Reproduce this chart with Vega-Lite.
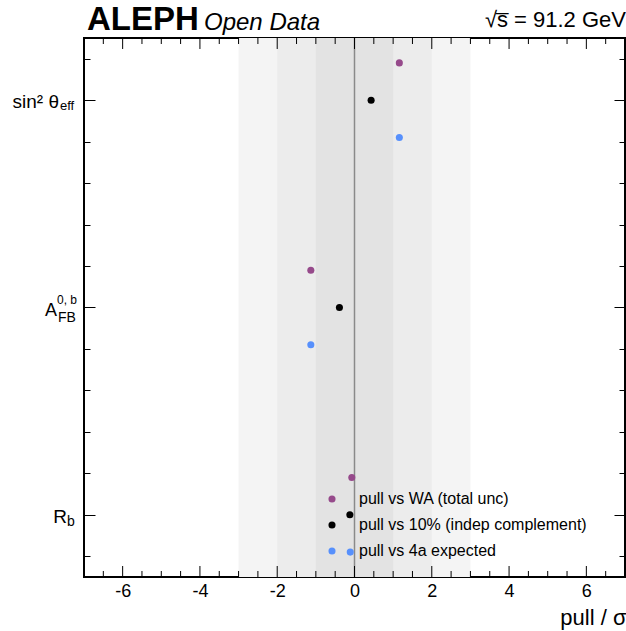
{
  "$schema": "https://vega.github.io/schema/vega-lite/v6.json",
  "width": 541,
  "height": 539,
  "autosize": {"type": "none"},
  "padding": {"left": 84, "top": 38, "right": 1, "bottom": 54},
  "background": "white",
  "config": {
    "font": "Liberation Sans",
    "view": {"stroke": "black", "strokeWidth": 2},
    "axis": {"domain": false, "grid": false, "ticks": true, "tickColor": "black", "tickWidth": 1, "tickOpacity": 1, "labelFont": "Liberation Sans", "labelColor": "black", "titleFont": "Liberation Sans", "titleColor": "black"}
  },
  "datasets": {
    "bands": [
      {"band": "3 sigma", "lo": -3, "hi": 3},
      {"band": "2 sigma", "lo": -2, "hi": 2},
      {"band": "1 sigma", "lo": -1, "hi": 1}
    ],
    "zeroline": [{"pull": 0}],
    "xticks": [
      {"pos": -6.5, "kind": "minor"}, {"pos": -6, "kind": "major"}, {"pos": -5.5, "kind": "minor"}, {"pos": -5, "kind": "minor"},
      {"pos": -4.5, "kind": "minor"}, {"pos": -4, "kind": "major"}, {"pos": -3.5, "kind": "minor"}, {"pos": -3, "kind": "minor"},
      {"pos": -2.5, "kind": "minor"}, {"pos": -2, "kind": "major"}, {"pos": -1.5, "kind": "minor"}, {"pos": -1, "kind": "minor"},
      {"pos": -0.5, "kind": "minor"}, {"pos": 0, "kind": "major"}, {"pos": 0.5, "kind": "minor"}, {"pos": 1, "kind": "minor"},
      {"pos": 1.5, "kind": "minor"}, {"pos": 2, "kind": "major"}, {"pos": 2.5, "kind": "minor"}, {"pos": 3, "kind": "minor"},
      {"pos": 3.5, "kind": "minor"}, {"pos": 4, "kind": "major"}, {"pos": 4.5, "kind": "minor"}, {"pos": 5, "kind": "minor"},
      {"pos": 5.5, "kind": "minor"}, {"pos": 6, "kind": "major"}, {"pos": 6.5, "kind": "minor"}
    ],
    "pulls": [
      {"observable": "sin2", "series": "pull vs WA (total unc)", "row": 2.18, "pull": 1.16},
      {"observable": "sin2", "series": "pull vs 10% (indep complement)", "row": 2.0, "pull": 0.43},
      {"observable": "sin2", "series": "pull vs 4a expected", "row": 1.82, "pull": 1.16},
      {"observable": "AFB", "series": "pull vs WA (total unc)", "row": 1.18, "pull": -1.13},
      {"observable": "AFB", "series": "pull vs 10% (indep complement)", "row": 1.0, "pull": -0.39},
      {"observable": "AFB", "series": "pull vs 4a expected", "row": 0.82, "pull": -1.13},
      {"observable": "Rb", "series": "pull vs WA (total unc)", "row": 0.18, "pull": -0.07},
      {"observable": "Rb", "series": "pull vs 10% (indep complement)", "row": 0.0, "pull": -0.12},
      {"observable": "Rb", "series": "pull vs 4a expected", "row": -0.18, "pull": -0.11}
    ],
    "ylab": [
      {"part": "sinmain", "v": 2, "t": "sin² θ"},
      {"part": "sinsub", "v": 2, "t": "eff"},
      {"part": "amain", "v": 1, "t": "A"},
      {"part": "asup", "v": 1, "t": "0, b"},
      {"part": "asub", "v": 1, "t": "FB"},
      {"part": "rmain", "v": 0, "t": "R"},
      {"part": "rsub", "v": 0, "t": "b"}
    ],
    "header": [
      {"part": "exp", "t": "ALEPH"},
      {"part": "od", "t": "Open Data"},
      {"part": "energy", "t": "√s̅ = 91.2 GeV"}
    ]
  },
  "layer": [
    {
      "data": {"name": "bands"},
      "mark": {"type": "rect"},
      "encoding": {
        "x": {
          "field": "lo", "type": "quantitative",
          "scale": {"domain": [-7, 7], "nice": false, "zero": false},
          "axis": {
            "orient": "bottom",
            "values": [-6, -4, -2, 0, 2, 4, 6],
            "labelExpr": "toString(datum.value)",
            "tickSize": -11,
            "tickOpacity": 0,
            "labelFontSize": 18,
            "labelPadding": 16,
            "labelFlush": false,
            "labelOverlap": false,
            "title": "pull / σ",
            "titleFontSize": 22,
            "titleFontWeight": "normal",
            "titleAnchor": "end",
            "titleAlign": "right",
            "titleBaseline": "alphabetic",
            "titleX": 542,
            "titleY": 47
          }
        },
        "x2": {"field": "hi"},
        "fill": {
          "field": "band", "type": "nominal",
          "scale": {"domain": ["3 sigma", "2 sigma", "1 sigma"], "range": ["#f4f4f4", "#ececec", "#e3e3e3"]},
          "legend": null
        }
      }
    },
    {
      "data": {"name": "zeroline"},
      "mark": {"type": "rule", "color": "#8a8a8a", "strokeWidth": 1.5},
      "encoding": {
        "x": {"field": "pull", "type": "quantitative", "axis": null}
      }
    },
    {
      "data": {"name": "xticks"},
      "transform": [{"filter": "datum.kind === 'major'"}],
      "mark": {"type": "rule", "color": "black", "strokeWidth": 1},
      "encoding": {
        "x": {"field": "pos", "type": "quantitative", "axis": null},
        "y": {"datum": -0.3, "type": "quantitative", "axis": null},
        "y2": {"datum": -0.247}
      }
    },
    {
      "data": {"name": "xticks"},
      "transform": [{"filter": "datum.kind === 'minor'"}],
      "mark": {"type": "rule", "color": "black", "strokeWidth": 1},
      "encoding": {
        "x": {"field": "pos", "type": "quantitative", "axis": null},
        "y": {"datum": -0.3, "type": "quantitative", "axis": null},
        "y2": {"datum": -0.271}
      }
    },
    {
      "data": {"name": "xticks"},
      "transform": [{"filter": "datum.kind === 'major'"}],
      "mark": {"type": "rule", "color": "black", "strokeWidth": 1},
      "encoding": {
        "x": {"field": "pos", "type": "quantitative", "axis": null},
        "y": {"datum": 2.3, "type": "quantitative", "axis": null},
        "y2": {"datum": 2.247}
      }
    },
    {
      "data": {"name": "xticks"},
      "transform": [{"filter": "datum.kind === 'minor'"}],
      "mark": {"type": "rule", "color": "black", "strokeWidth": 1},
      "encoding": {
        "x": {"field": "pos", "type": "quantitative", "axis": null},
        "y": {"datum": 2.3, "type": "quantitative", "axis": null},
        "y2": {"datum": 2.271}
      }
    },
    {
      "data": {"name": "pulls"},
      "mark": {"type": "circle", "size": 50, "opacity": 1},
      "encoding": {
        "x": {"field": "pull", "type": "quantitative", "axis": null},
        "y": {
          "field": "row", "type": "quantitative",
          "scale": {"domain": [-0.3, 2.3], "nice": false, "zero": false},
          "axis": {
            "orient": "left",
            "values": [-0.2, 0, 0.2, 0.4, 0.6, 0.8, 1, 1.2, 1.4, 1.6, 1.8, 2, 2.2],
            "labels": false,
            "title": null,
            "tickSize": {"condition": {"test": "abs(datum.value - round(datum.value)) < 0.001", "value": -11}, "value": -6}
          }
        },
        "color": {
          "field": "series", "type": "nominal",
          "scale": {"domain": ["pull vs WA (total unc)", "pull vs 10% (indep complement)", "pull vs 4a expected"], "range": ["#964a8b", "#000000", "#5790fc"]},
          "legend": {
            "orient": "none", "legendX": 240, "legendY": 453,
            "title": null, "padding": 0,
            "labelFontSize": 16, "labelFont": "Liberation Sans", "labelColor": "black", "labelLimit": 0,
            "symbolType": "circle", "symbolSize": 50, "symbolStrokeWidth": 0,
            "rowPadding": 10, "labelOffset": 19
          }
        }
      }
    },
    {
      "data": {"name": "ylab"},
      "transform": [{"filter": "datum.part === 'sinmain'"}],
      "mark": {"type": "text", "align": "right", "baseline": "alphabetic", "dx": -25, "dy": 8, "fontSize": 19, "color": "black"},
      "encoding": {
        "x": {"datum": -7, "type": "quantitative", "axis": null},
        "y": {
          "field": "v", "type": "quantitative",
          "axis": {
            "orient": "right",
            "values": [-0.2, 0, 0.2, 0.4, 0.6, 0.8, 1, 1.2, 1.4, 1.6, 1.8, 2, 2.2],
            "labels": false,
            "title": null,
            "tickSize": {"condition": {"test": "abs(datum.value - round(datum.value)) < 0.001", "value": -11}, "value": -6}
          }
        },
        "text": {"field": "t"}
      }
    },
    {
      "data": {"name": "ylab"},
      "transform": [{"filter": "datum.part === 'sinsub'"}],
      "mark": {"type": "text", "align": "left", "baseline": "alphabetic", "dx": -24, "dy": 10, "fontSize": 13, "color": "black"},
      "encoding": {
        "x": {"datum": -7, "type": "quantitative", "axis": null},
        "y": {"field": "v", "type": "quantitative", "axis": null},
        "text": {"field": "t"}
      }
    },
    {
      "data": {"name": "ylab"},
      "transform": [{"filter": "datum.part === 'amain'"}],
      "mark": {"type": "text", "align": "right", "baseline": "alphabetic", "dx": -27, "dy": 8, "fontSize": 18, "color": "black"},
      "encoding": {
        "x": {"datum": -7, "type": "quantitative", "axis": null},
        "y": {"field": "v", "type": "quantitative", "axis": null},
        "text": {"field": "t"}
      }
    },
    {
      "data": {"name": "ylab"},
      "transform": [{"filter": "datum.part === 'asup'"}],
      "mark": {"type": "text", "align": "left", "baseline": "alphabetic", "dx": -27, "dy": -4, "fontSize": 12, "color": "black"},
      "encoding": {
        "x": {"datum": -7, "type": "quantitative", "axis": null},
        "y": {"field": "v", "type": "quantitative", "axis": null},
        "text": {"field": "t"}
      }
    },
    {
      "data": {"name": "ylab"},
      "transform": [{"filter": "datum.part === 'asub'"}],
      "mark": {"type": "text", "align": "left", "baseline": "alphabetic", "dx": -26, "dy": 14, "fontSize": 14, "color": "black"},
      "encoding": {
        "x": {"datum": -7, "type": "quantitative", "axis": null},
        "y": {"field": "v", "type": "quantitative", "axis": null},
        "text": {"field": "t"}
      }
    },
    {
      "data": {"name": "ylab"},
      "transform": [{"filter": "datum.part === 'rmain'"}],
      "mark": {"type": "text", "align": "right", "baseline": "alphabetic", "dx": -17, "dy": 8, "fontSize": 19, "color": "black"},
      "encoding": {
        "x": {"datum": -7, "type": "quantitative", "axis": null},
        "y": {"field": "v", "type": "quantitative", "axis": null},
        "text": {"field": "t"}
      }
    },
    {
      "data": {"name": "ylab"},
      "transform": [{"filter": "datum.part === 'rsub'"}],
      "mark": {"type": "text", "align": "left", "baseline": "alphabetic", "dx": -17, "dy": 11, "fontSize": 14, "color": "black"},
      "encoding": {
        "x": {"datum": -7, "type": "quantitative", "axis": null},
        "y": {"field": "v", "type": "quantitative", "axis": null},
        "text": {"field": "t"}
      }
    },
    {
      "data": {"name": "header"},
      "transform": [{"filter": "datum.part === 'exp'"}],
      "mark": {"type": "text", "align": "left", "baseline": "alphabetic", "dx": 3, "dy": -8, "fontSize": 33, "fontWeight": "bold", "color": "black"},
      "encoding": {
        "x": {"datum": -7, "type": "quantitative", "axis": null},
        "y": {"datum": 2.3, "type": "quantitative", "axis": null},
        "text": {"field": "t"}
      }
    },
    {
      "data": {"name": "header"},
      "transform": [{"filter": "datum.part === 'od'"}],
      "mark": {"type": "text", "align": "left", "baseline": "alphabetic", "dx": 120, "dy": -8, "fontSize": 24, "fontStyle": "italic", "color": "black"},
      "encoding": {
        "x": {"datum": -7, "type": "quantitative", "axis": null},
        "y": {"datum": 2.3, "type": "quantitative", "axis": null},
        "text": {"field": "t"}
      }
    },
    {
      "data": {"name": "header"},
      "transform": [{"filter": "datum.part === 'energy'"}],
      "mark": {"type": "text", "align": "right", "baseline": "alphabetic", "dx": 1, "dy": -11, "fontSize": 22, "color": "black"},
      "encoding": {
        "x": {"datum": 7, "type": "quantitative", "axis": null},
        "y": {"datum": 2.3, "type": "quantitative", "axis": null},
        "text": {"field": "t"}
      }
    }
  ],
  "resolve": {"axis": {"x": "independent", "y": "independent"}}
}
